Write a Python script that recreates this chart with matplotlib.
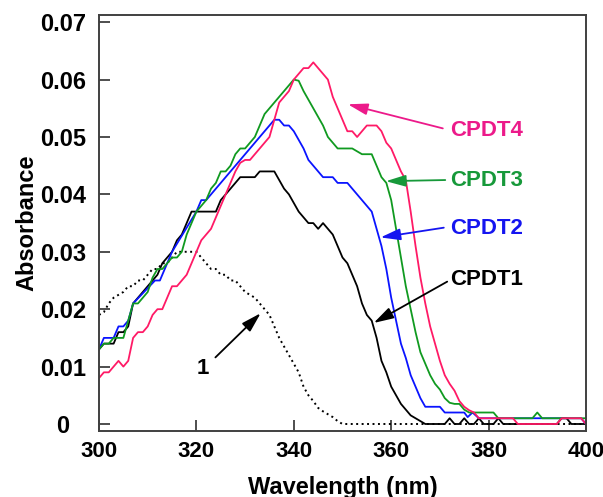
import numpy as np
import matplotlib
matplotlib.use("Agg")
import matplotlib.pyplot as plt

plt.rcParams['font.family'] = ['Liberation Sans', 'DejaVu Sans']
plt.rcParams['font.weight'] = 'bold'

# absorbance spectra
x_1 = [300, 301, 302, 303, 304, 305, 306, 307, 308, 309, 310, 311, 312, 313, 314, 315,
       316, 317, 318, 319, 320, 321, 322, 323, 324, 325, 326, 327, 328, 329, 330, 331,
       332, 333, 334, 335, 336, 337, 338, 339, 340, 341, 342, 343, 344, 345, 346, 347,
       348, 349, 350, 400]
y_1 = [.019, .0195, .021, .022, .0225, .023, .024, .024, .025, .025, .026, .027, .027, .028,
       .028, .029, .030, .030, .030, .030, .030, .029, .028, .027, .027, .026, .026, .025,
       .025, .024, .023, .0225, .022, .021, .020, .019, .017, .015, .0135, .012, .0105, .009,
       .0065, .005, .004, .0028, .0022, .0017, .0012, .0005, 0, 0]

x_c1 = list(range(300, 401))
y_c1 = [.013, .014, .014, .014, .016, .016, .017, .021, .022, .023,   # 300-309
        .024, .025, .026, .028, .029, .030, .032, .033, .035, .037,   # 310-319
        .037, .037, .037, .037, .037, .039, .040, .041, .042, .043,   # 320-329
        .043, .043, .043, .044, .044, .044, .044, .0425, .041, .040,  # 330-339
        .0385, .037, .036, .035, .035, .034, .035, .034, .033, .031,  # 340-349
        .029, .028, .026, .024, .021, .019, .018, .015, .011, .009,   # 350-359
        .0065, .005, .0035, .0025, .0015, .001, .0005, 0, 0, 0,       # 360-369
        0, 0, .001, 0, 0, .001, 0, 0, .001, 0,                        # 370-379
        0, 0, .001, 0, 0, 0, 0, 0, 0, 0,                              # 380-389
        0, 0, 0, 0, 0, .001, .001, 0, 0, 0,                           # 390-399
        0]

x_c2 = [300, 301, 302, 303, 304, 305, 306, 307, 311.5, 312.5, 315, 320, 321, 322, 336, 337,
        338, 339, 340, 341, 342, 343, 344, 345, 346, 347, 348, 349, 350, 351, 352, 353,
        354, 355, 356, 357, 358, 359, 360, 361, 362, 363, 364, 365, 366, 367, 370, 371,
        375, 375.7, 376.7, 378, 399, 400]
y_c2 = [.013, .015, .015, .015, .017, .017, .018, .021, .025, .025, .030, .037, .039, .039,
        .053, .053, .052, .052, .051, .0495, .048, .046, .045, .044, .043, .043, .043, .042,
        .042, .042, .041, .040, .039, .038, .037, .034, .031, .027, .022, .018, .014, .0115,
        .0085, .0065, .0045, .003, .003, .002, .002, .0012, .002, .001, .001, 0]

x_c3 = list(range(300, 401))
y_c3 = [.013, .014, .014, .015, .015, .015, .018, .021, .021, .022,   # 300-309
        .023, .0255, .027, .027, .028, .029, .029, .030, .033, .035,  # 310-319
        .037, .038, .039, .041, .042, .044, .044, .045, .047, .048,   # 320-329
        .048, .049, .050, .052, .054, .055, .056, .057, .058, .059,   # 330-339
        .060, .0598, .058, .0565, .055, .0535, .052, .050, .049, .048,  # 340-349
        .048, .048, .048, .0475, .047, .047, .047, .045, .043, .042,  # 350-359
        .039, .034, .029, .024, .020, .016, .0125, .0105, .0085, .007,  # 360-369
        .006, .0045, .0037, .0035, .0035, .0025, .002, .002, .002, .002,  # 370-379
        .002, .002, .001, .001, .001, .001, .001, .001, .001, .001,   # 380-389
        .002, .001, .001, .001, .001, .001, .001, .001, .001, .001,   # 390-399
        .001]

x_c4 = list(range(300, 401))
y_c4 = [.008, .009, .009, .010, .011, .010, .011, .015, .016, .016,   # 300-309
        .017, .019, .020, .020, .022, .024, .024, .025, .026, .028,   # 310-319
        .030, .032, .033, .034, .036, .038, .040, .042, .044, .0455,  # 320-329
        .046, .046, .047, .048, .049, .050, .053, .056, .057, .058,   # 330-339
        .060, .061, .062, .062, .063, .062, .061, .060, .057, .055,   # 340-349
        .053, .051, .051, .050, .051, .052, .052, .052, .051, .049,   # 350-359
        .048, .046, .044, .0425, .037, .031, .0255, .021, .017, .014,  # 360-369
        .011, .0085, .007, .0058, .004, .003, .0024, .002, .001, .001,  # 370-379
        .001, .001, .001, .001, .001, .001, 0, 0, 0, 0,               # 380-389
        0, 0, 0, 0, 0, .001, .001, .001, .001, .001,                  # 390-399
        0]

labels = ["CPDT4", "CPDT3", "CPDT2", "CPDT1"]
label_pos = [(372, 0.0512), (372, 0.0425), (372, 0.0341), (372, 0.0252)]
arrow_tail = [(370.6, 0.0515), (371.1, 0.0425), (370.8, 0.0342), (371.5, 0.0248)]
arrow_tip = [(351.1, 0.0557), (358.9, 0.0423), (357.8, 0.0325), (356.4, 0.0176)]
text_colors = ["#EC1A8A", "#17993A", "#1515F0", "black"]

xticks = [300, 320, 340, 360, 380, 400]
yticks = [0, 0.01, 0.02, 0.03, 0.04, 0.05, 0.06, 0.07]
ytick_labels = ["0", "0.01", "0.02", "0.03", "0.04", "0.05", "0.06", "0.07"]

fig = plt.figure(figsize=(6.03, 4.97), dpi=100)
ax = fig.add_axes([0.1642, 0.1328, 0.8076, 0.837])

ax.plot(x_1, y_1, color='black', lw=1.4, linestyle=(0, (1, 1.8)))
ax.plot(x_c1, y_c1, color='black', lw=1.3)
ax.plot(x_c2, y_c2, color='#0A14FF', lw=1.3)
ax.plot(x_c3, y_c3, color='#109A20', lw=1.3)
ax.plot(x_c4, y_c4, color='#FF1A66', lw=1.3)

for lab, p, t, h, c in zip(labels, label_pos, arrow_tail, arrow_tip, text_colors):
    ax.text(p[0], p[1], lab, color=c, fontsize=16, fontweight='bold', ha='left', va='center')
    ax.annotate('', xy=h, xytext=t,
                arrowprops=dict(arrowstyle='-|>,head_length=1.2,head_width=0.35',
                                mutation_scale=10, color=c, lw=1.3, shrinkA=0, shrinkB=0))

ax.text(321.4, 0.0097, "1", fontsize=16, fontweight='bold', ha='center', va='center')
ax.annotate('', xy=(333.2, 0.0193), xytext=(323.9, 0.0116),
            arrowprops=dict(arrowstyle='-|>,head_length=1.2,head_width=0.35',
                            mutation_scale=10, color='black', lw=1.3, shrinkA=0, shrinkB=0))

ax.set_xlim(300, 400)
ax.set_ylim(-0.00122, 0.07125)
ax.set_xticks(xticks)
ax.set_yticks(yticks)
ax.set_yticklabels(ytick_labels)
ax.tick_params(direction='in', length=8, width=1.3, color='#404040')
ax.tick_params(axis='x', labelsize=16, pad=7)
ax.tick_params(axis='y', labelsize=17, pad=26)
for lbl in ax.get_yticklabels():
    lbl.set_horizontalalignment('center')
    lbl.set_fontweight('bold')
for lbl in ax.get_xticklabels():
    lbl.set_fontweight('bold')
for s in ax.spines.values():
    s.set_color('#404040')
    s.set_linewidth(1.4)

ax.set_xlabel("Wavelength (nm)", fontsize=17, fontweight='bold', labelpad=10)
ax.set_ylabel("Absorbance", fontsize=17, fontweight='bold')
ax.yaxis.set_label_coords(-0.125, 0.5)

fig.savefig("out.png", dpi=100)
